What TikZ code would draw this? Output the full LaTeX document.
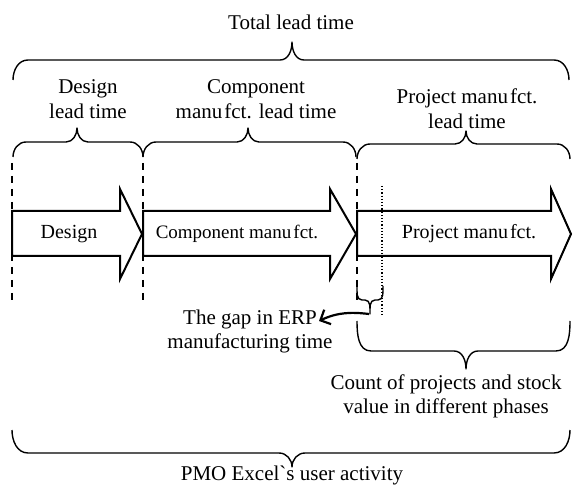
\documentclass[tikz,border=0pt]{standalone}
\usepackage{fontspec}
\setmainfont{Liberation Serif}
\newfontfamily\rawserif{Liberation Serif}
\usetikzlibrary{arrows.meta}
% brace with tip pointing up (ends hang below the line)
\newcommand{\BrUp}[8]{\draw[bracestyle] (#1,#5) to[out=90,in=180] (#1+#7,#4) -- (#3-#8,#4) to[out=0,in=-90] (#3,#6) to[out=-90,in=180] (#3+#8,#4) -- (#2-#7,#4) to[out=0,in=90] (#2,#5);}
% brace with tip pointing down (ends rise above the line)
\newcommand{\BrDn}[8]{\draw[bracestyle] (#1,#5) to[out=-90,in=180] (#1+#7,#4) -- (#3-#8,#4) to[out=0,in=90] (#3,#6) to[out=90,in=180] (#3+#8,#4) -- (#2-#7,#4) to[out=0,in=-90] (#2,#5);}
\begin{document}
\begin{tikzpicture}[x=1pt,y=-1pt,
  font=\fontsize{21}{24}\selectfont,
  bracestyle/.style={line width=1.4pt,line join=round},
  arrowbox/.style={draw,line width=2pt,line join=miter},
  phasedash/.style={line width=2pt,dash pattern=on 7pt off 6pt},
  gapdot/.style={line width=1.2pt,dash pattern=on 1.2pt off 2pt},
  lbl/.style={align=center,inner sep=0pt},
  inarrow/.style={lbl,font=\fontsize{20}{24}\selectfont}]
\useasboundingbox (0,0) rectangle (573,486);

% top labels and braces
\node[lbl] (total) at (291,22) {Total lead time};
\BrUp{13}{569}{292}{60}{80}{42}{15}{12}
\node[lbl,font=\fontsize{21}{25}\selectfont] (designlt) at (88,99) {Design\\lead time};
\node[lbl,font=\fontsize{21}{25}\selectfont] (complt) at (256,99) {Component\\manu\kern2pt fct. lead time};
\node[lbl,font=\fontsize{21}{25}\selectfont] (projlt) at (467,109) {Project manu\kern2pt fct.\\lead time};
\BrUp{13}{143}{77}{142}{157}{128}{13}{11}
\BrUp{143}{356}{248}{142}{157}{128}{13}{11}
\BrUp{357}{570}{466}{144}{159}{131}{13}{11}

% phase boundaries
\draw[phasedash] (12,163) -- (12,306);
\draw[phasedash] (143,163) -- (143,306);
\draw[phasedash] (357,163) -- (357,302);

% phase arrows
\draw[arrowbox] (12,211) -- (120,211) -- (120,189) -- (142,234) -- (120,279) -- (120,256) -- (12,256) -- cycle;
\draw[arrowbox] (143,211) -- (330,211) -- (330,189) -- (356,234) -- (330,279) -- (330,256) -- (143,256) -- cycle;
\draw[arrowbox] (357,211) -- (551,211) -- (551,189) -- (571,234) -- (551,279) -- (551,256) -- (357,256) -- cycle;
\node[inarrow] (design) at (69,234) {Design};
\node[inarrow,font=\fontsize{19}{24}\selectfont] (comp) at (237,234) {Component manu\kern2pt fct.};
\node[inarrow] (proj) at (469,234) {Project manu\kern2pt fct.};

% ERP gap
\draw[gapdot] (382,186) -- (382,315);
\BrDn{357}{383}{370}{300}{286}{314}{5}{5}
\coordinate (gaptip) at (369,314);
\coordinate (gapend) at (319,321);
\node[lbl] (gap) at (250,331) {The gap in ERP\\manufacturing time};
\draw[line width=2.2pt,-{Straight Barb[length=8pt,width=16pt]}] (gaptip) .. controls (352,312) and (338,312) .. (gapend);

% count brace
\BrDn{357}{570}{466}{351}{321}{369}{14}{12}
\node[lbl] (count) at (446,396) {Count of projects and stock\\value in different phases};

% bottom brace
\BrDn{12}{570}{292}{453}{430}{467}{16}{13}
\node[lbl,anchor=base] (pmo) at (292,480) {\rawserif PMO Excel`s user activity};
\end{tikzpicture}
\end{document}
